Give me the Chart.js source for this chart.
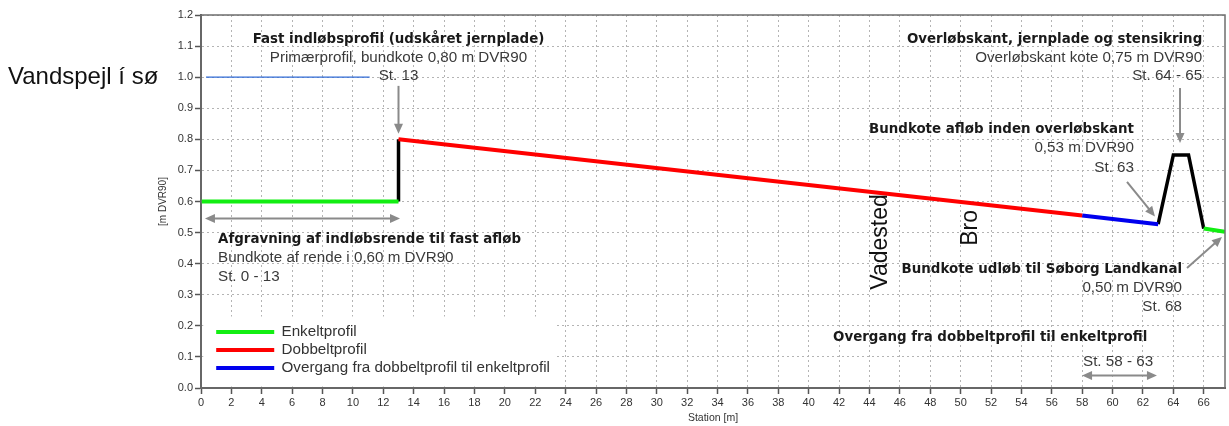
<!DOCTYPE html>
<html><head><meta charset="utf-8">
<script src="https://cdn.jsdelivr.net/npm/chart.js@4/dist/chart.umd.min.js"></script>
<style>html,body{margin:0;padding:0;background:#fff;}#wrap{width:1229px;height:426px;position:relative;}</style>
</head><body><div id="wrap"><canvas id="c"></canvas></div>
<script>
// ---- data (station [m], kote [m DVR90]) ----
const enkeltprofilInlet  = [[0, 0.60], [13, 0.60]];
const enkeltprofilOutlet = [[66, 0.513], [67.4, 0.503]];
const dobbeltprofil      = [[13, 0.80], [58, 0.555]];
const overgang           = [[58, 0.555], [63, 0.527]];
const indlobsplade       = [[13, 0.60], [13, 0.80]];
const overlobskant       = [[63, 0.527], [64, 0.75], [65, 0.75], [66, 0.513]];
const vandspejl          = [[0.33, 1.00], [11.1, 1.00]];
const stationTicks = [0,2,4,6,8,10,12,14,16,18,20,22,24,26,28,30,32,34,36,38,40,42,44,46,48,50,52,54,56,58,60,62,64,66];
const koteTicks = [0.0,0.1,0.2,0.3,0.4,0.5,0.6,0.7,0.8,0.9,1.0,1.1,1.2];
const legendNames = ["Enkeltprofil", "Dobbeltprofil", "Overgang fra dobbeltprofil til enkeltprofil"];
const noteInlet   = ["Fast indløbsprofil (udskåret jernplade)", "Primærprofil, bundkote 0,80 m DVR90", "St. 13"];
const noteChannel = ["Afgravning af indløbsrende til fast afløb", "Bundkote af rende i 0,60 m DVR90", "St. 0 - 13"];
const noteWeir    = ["Overløbskant, jernplade og stensikring", "Overløbskant kote 0,75 m DVR90", "St. 64 - 65"];
const noteBottom  = ["Bundkote afløb inden overløbskant", "0,53 m DVR90", "St. 63"];
const noteOutlet  = ["Bundkote udløb til Søborg Landkanal", "0,50 m DVR90", "St. 68"];
const noteTransition = ["Overgang fra dobbeltprofil til enkeltprofil", "St. 58 - 63"];
const sideLabel = "Vandspejl í sø";
const crossings = ["Vadested", "Bro"];

const pts = a => a.map(p => ({x: p[0], y: p[1]}));
const GREEN = '#12ee12', RED = '#ff0000', BLUE = '#0000ee';
const lineDs = (label, data, color, w, legend) => ({label, data: pts(data), borderColor: color, backgroundColor: color,
  borderWidth: w, pointRadius: 0, tension: 0, fill: false, showLine: true, borderJoinStyle: 'miter', inLegend: legend});

const NB = "bold 13.4px 'DejaVu Sans'";
const NN = "15.2px 'Liberation Sans'";

function arrowHead(ctx, x1, y1, x2, y2) {
  const a = Math.atan2(y2 - y1, x2 - x1), L = 10, W = 4.5;
  ctx.beginPath();
  ctx.moveTo(x2, y2);
  ctx.lineTo(x2 - L*Math.cos(a) + W*Math.sin(a), y2 - L*Math.sin(a) - W*Math.cos(a));
  ctx.lineTo(x2 - L*Math.cos(a) - W*Math.sin(a), y2 - L*Math.sin(a) + W*Math.cos(a));
  ctx.closePath(); ctx.fill();
}
function arrow(ctx, x1, y1, x2, y2, both) {
  const a = Math.atan2(y2 - y1, x2 - x1);
  ctx.beginPath();
  ctx.moveTo(x1 + (both ? 8*Math.cos(a) : 0), y1 + (both ? 8*Math.sin(a) : 0));
  ctx.lineTo(x2 - 8*Math.cos(a), y2 - 8*Math.sin(a));
  ctx.stroke();
  arrowHead(ctx, x1, y1, x2, y2);
  if (both) arrowHead(ctx, x2, y2, x1, y1);
}

const annot = {
  id: 'annot',
  beforeDraw(chart) {
    const ctx = chart.ctx;
    ctx.save(); ctx.fillStyle = '#fff'; ctx.fillRect(0, 0, chart.width, chart.height); ctx.restore();
  },
  beforeDatasetsDraw(chart) {
    const {ctx, scales: {x, y}} = chart;
    ctx.save();
    ctx.fillStyle = '#fff';
    ctx.fillRect(x.getPixelForValue(0.15), y.getPixelForValue(0.23), x.getPixelForValue(23.4) - x.getPixelForValue(0.15), y.getPixelForValue(0.005) - y.getPixelForValue(0.23));
    const items = chart.data.datasets.filter(d => d.inLegend);
    items.forEach((d, i) => {
      const yy = y.getPixelForValue(0.18) + i * 18;
      ctx.strokeStyle = d.borderColor; ctx.lineWidth = 4;
      ctx.beginPath(); ctx.moveTo(x.getPixelForValue(1.0), yy); ctx.lineTo(x.getPixelForValue(4.82), yy); ctx.stroke();
      ctx.fillStyle = '#333'; ctx.font = NN; ctx.textBaseline = 'middle'; ctx.textAlign = 'left';
      ctx.fillText(d.label, x.getPixelForValue(5.3), yy);
    });
    ctx.restore();
  },
  afterDatasetsDraw(chart) {
    const {ctx, scales: {x, y}} = chart;
    const X = v => x.getPixelForValue(v), Y = v => y.getPixelForValue(v);
    ctx.save();
    ctx.textBaseline = 'middle';
    const block = (lines, sx, ys, align) => {
      ctx.textAlign = align;
      lines.forEach((s, i) => {
        ctx.font = i === 0 ? NB : NN;
        ctx.fillStyle = i === 0 ? '#1a1a1a' : '#3a3a3a';
        ctx.fillText(s, X(sx), Y(ys[i]));
      });
    };
    block(noteInlet, 13.0, [1.120, 1.062, 1.004], 'center');
    block(noteChannel, 1.12, [0.479, 0.418, 0.357], 'left');
    block(noteWeir, 65.9, [1.120, 1.062, 1.004], 'right');
    block(noteBottom, 61.41, [0.830, 0.772, 0.708], 'right');
    block(noteOutlet, 64.57, [0.380, 0.322, 0.261], 'right');
    ctx.textAlign = 'left'; ctx.font = NB; ctx.fillStyle = '#1a1a1a';
    ctx.fillText(noteTransition[0], X(41.6), Y(0.161));
    ctx.textAlign = 'center'; ctx.font = NN; ctx.fillStyle = '#3a3a3a';
    ctx.fillText(noteTransition[1], X(60.36), Y(0.084));
    ctx.fillStyle = '#111'; ctx.font = "23px 'Liberation Sans'"; ctx.textAlign = 'center';
    [[crossings[0], 44.75, 0.470], [crossings[1], 50.68, 0.515]].forEach(([s, sx, sy]) => {
      ctx.save(); ctx.translate(X(sx), Y(sy)); ctx.rotate(-Math.PI/2); ctx.fillText(s, 0, 0); ctx.restore();
    });
    ctx.strokeStyle = '#8a8a8a'; ctx.fillStyle = '#8a8a8a'; ctx.lineWidth = 2;
    arrow(ctx, X(13), Y(0.972), X(13), Y(0.818), false);
    arrow(ctx, X(0.26), Y(0.545), X(13.1), Y(0.545), true);
    arrow(ctx, X(64.44), Y(0.965), X(64.44), Y(0.788), false);
    arrow(ctx, X(60.95), Y(0.663), X(62.79), Y(0.552), false);
    arrow(ctx, X(64.9), Y(0.386), X(67.2), Y(0.486), false);
    arrow(ctx, X(57.99), Y(0.04), X(62.92), Y(0.04), true);
    ctx.restore();
  },
  afterDraw(chart) {
    const {ctx, chartArea: a} = chart;
    ctx.save();
    ctx.strokeStyle = '#6e6e6e'; ctx.lineWidth = 1.5;
    ctx.strokeRect(a.left, a.top, a.right - a.left, a.bottom - a.top);
    ctx.fillStyle = '#111'; ctx.font = "24px 'Liberation Sans'"; ctx.textAlign = 'left'; ctx.textBaseline = 'alphabetic';
    ctx.fillText(sideLabel, 8, 84);
    ctx.restore();
  }
};

new Chart(document.getElementById('c'), {
  type: 'scatter',
  data: { datasets: [
    lineDs(legendNames[0], enkeltprofilInlet, GREEN, 4, true),
    lineDs(legendNames[1], dobbeltprofil, RED, 4, true),
    lineDs(legendNames[2], overgang, BLUE, 4, true),
    lineDs('', enkeltprofilOutlet, GREEN, 4, false),
    lineDs('', indlobsplade, '#000', 3.5, false),
    lineDs('', overlobskant, '#000', 3.5, false),
    lineDs('', vandspejl, '#2f6ad6', 1.2, false)
  ]},
  options: {
    responsive: true, maintainAspectRatio: false, animation: false,
    layout: { padding: { left: 150, top: 15, right: 4, bottom: 0 } },
    plugins: { legend: { display: false }, tooltip: { enabled: false } },
    scales: {
      x: {
        type: 'linear', min: 0, max: 67.4,
        afterBuildTicks: s => { s.ticks = stationTicks.map(v => ({value: v})); },
        afterFit: s => { s.height = 38; },
        ticks: { font: {family: 'Liberation Sans', size: 11}, color: '#333', padding: 2, maxRotation: 0, autoSkip: false },
        grid: { color: '#b4b4b4', lineWidth: 1, tickLength: 6, tickColor: '#555', tickWidth: 1.5, tickBorderDash: [] },
        border: { display: true, color: '#555', width: 2, dash: [2, 3] },
        title: { display: true, text: 'Station [m]', font: {family: 'Liberation Sans', size: 10.5}, color: '#333', padding: {top: 0, bottom: 2} }
      },
      y: {
        type: 'linear', min: 0, max: 1.2,
        afterBuildTicks: s => { s.ticks = koteTicks.map(v => ({value: v})); },
        afterFit: s => { s.width = 51; },
        ticks: { font: {family: 'Liberation Sans', size: 11}, color: '#333', padding: 2, callback: v => Number(v).toFixed(1) },
        grid: { color: '#b4b4b4', lineWidth: 1, tickLength: 6, tickColor: '#555', tickWidth: 1.5, tickBorderDash: [] },
        border: { display: true, color: '#555', width: 2, dash: [2, 3] },
        title: { display: true, text: '[m DVR90]', font: {family: 'Liberation Sans', size: 10}, color: '#333', padding: {top: 7, bottom: 0} }
      }
    }
  },
  plugins: [annot]
});
</script></body></html>
